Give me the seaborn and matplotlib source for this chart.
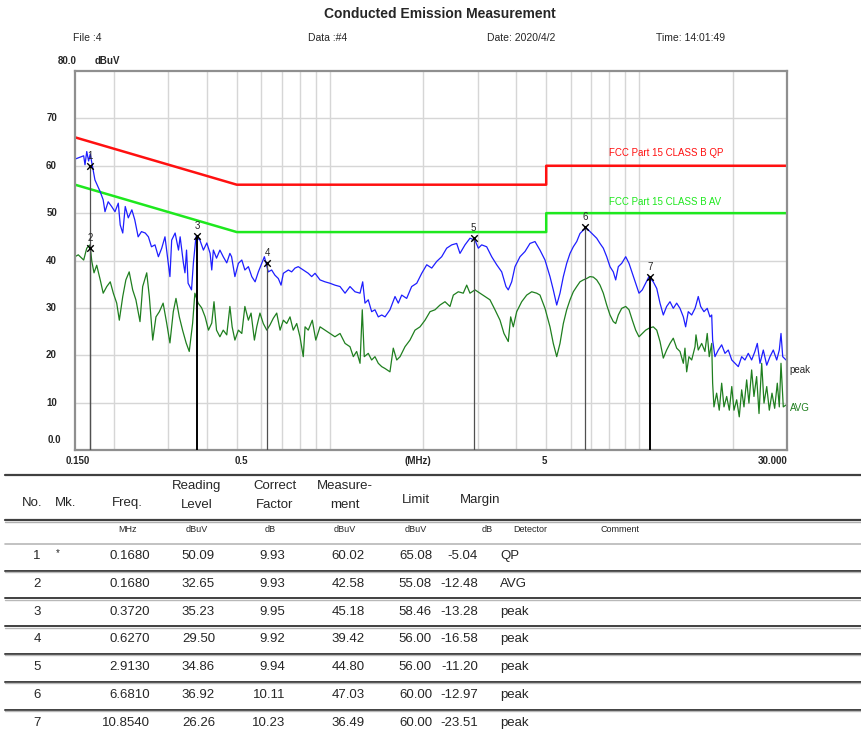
import seaborn as sns
import matplotlib.pyplot as plt
from matplotlib.lines import Line2D
from matplotlib.ticker import NullLocator
from matplotlib.transforms import blended_transform_factory

# Peak detector trace (MHz, dBuV)
peak_freq = [0.150, 0.160, 0.1616, 0.1637, 0.166, 0.168, 0.170, 0.174, 0.181, 0.185,
             0.1875, 0.192, 0.197, 0.202, 0.207, 0.210, 0.214, 0.218, 0.223, 0.229,
             0.234, 0.240, 0.246, 0.253, 0.259, 0.265, 0.272, 0.279, 0.286, 0.293,
             0.300, 0.304, 0.308, 0.316, 0.324, 0.328, 0.336, 0.340, 0.344, 0.348,
             0.357, 0.362, 0.369, 0.380, 0.390, 0.400, 0.410, 0.415, 0.420, 0.430,
             0.441, 0.452, 0.464, 0.475, 0.481, 0.493, 0.506, 0.519, 0.531, 0.545,
             0.559, 0.573, 0.587, 0.602, 0.614, 0.632, 0.648, 0.664, 0.681, 0.695,
             0.707, 0.734, 0.752, 0.771, 0.790, 0.820, 0.851, 0.873, 0.895, 0.929,
             0.964, 1.000, 1.038, 1.078, 1.119, 1.161, 1.205, 1.251, 1.276, 1.298,
             1.330, 1.364, 1.398, 1.433, 1.470, 1.507, 1.563, 1.623, 1.663, 1.706,
             1.770, 1.837, 1.908, 1.980, 2.055, 2.133, 2.213, 2.297, 2.384, 2.475,
             2.568, 2.632, 2.732, 2.835, 2.943, 3.017, 3.093, 3.210, 3.332, 3.459,
             3.590, 3.706, 3.770, 3.867, 3.963, 4.114, 4.270, 4.431, 4.599, 4.773,
             4.955, 5.142, 5.270, 5.406, 5.540, 5.679, 5.823, 5.969, 6.117, 6.274,
             6.428, 6.588, 6.756, 6.924, 7.098, 7.280, 7.461, 7.647, 7.843, 8.037,
             8.236, 8.385, 8.550, 8.769, 9.033, 9.258, 9.489, 9.729, 9.972, 10.22,
             10.48, 10.74, 11.09, 11.38, 11.66, 11.95, 12.25, 12.56, 12.87, 13.20,
             13.53, 13.87, 14.11, 14.39, 14.76, 15.13, 15.24, 15.50, 15.78, 16.17,
             16.57, 16.91, 17.13, 17.25, 17.55, 17.99, 18.45, 18.91, 19.38, 19.89,
             20.37, 20.88, 21.41, 21.94, 22.49, 23.06, 23.63, 24.05, 24.54, 25.15,
             25.80, 26.43, 27.09, 27.79, 28.33, 28.69, 29.06, 29.78]
peak_level = [61.4, 62.1, 60.2, 63.0, 61.0, 62.5, 60.6, 57.0, 54.5, 52.8,
              50.3, 52.4, 51.4, 50.3, 52.1, 47.5, 45.8, 51.4, 49.0, 50.7,
              48.6, 45.0, 46.1, 45.8, 45.0, 42.9, 43.3, 40.8, 42.6, 45.0,
              39.5, 36.6, 44.3, 45.8, 42.2, 45.0, 39.5, 37.4, 42.2, 35.2,
              33.8, 39.5, 45.0, 44.3, 42.2, 43.7, 41.5, 38.0, 42.2, 40.5,
              42.2, 40.8, 39.5, 41.5, 40.8, 36.6, 39.4, 40.1, 38.0, 38.7,
              36.6, 35.5, 37.6, 39.4, 40.8, 37.6, 38.0, 36.9, 36.2, 34.8,
              37.3, 38.0, 37.6, 38.4, 38.7, 38.0, 37.3, 36.6, 37.3, 35.9,
              35.5, 35.2, 34.8, 34.5, 33.1, 34.5, 33.4, 33.1, 35.5, 31.0,
              31.7, 29.2, 29.6, 28.1, 28.5, 28.1, 29.6, 32.4, 31.0, 32.7,
              32.0, 34.5, 35.2, 37.3, 39.1, 38.4, 39.8, 40.8, 42.6, 43.3,
              43.6, 41.5, 43.3, 44.7, 44.3, 42.6, 43.3, 42.9, 40.8, 39.1,
              37.6, 34.5, 33.8, 35.5, 38.7, 40.8, 41.9, 43.6, 44.0, 42.2,
              40.1, 36.6, 33.8, 30.6, 33.1, 36.6, 39.4, 41.5, 42.9, 44.0,
              45.7, 46.4, 46.8, 46.1, 45.4, 44.7, 43.6, 42.6, 40.8, 38.7,
              37.6, 35.9, 38.7, 39.4, 40.8, 39.4, 37.3, 35.2, 33.1, 33.8,
              35.2, 36.6, 35.5, 34.1, 31.0, 28.5, 30.3, 31.3, 29.9, 31.0,
              29.9, 28.1, 26.0, 29.2, 28.5, 29.9, 30.6, 32.4, 30.3, 29.2,
              29.9, 28.1, 28.5, 23.2, 19.7, 21.1, 22.2, 20.4, 21.1, 19.0,
              18.3, 17.6, 19.7, 19.0, 20.4, 19.0, 20.8, 22.5, 18.3, 21.1,
              17.9, 19.7, 21.1, 19.0, 21.1, 24.6, 19.7, 19.0]

# Average detector trace
avg_freq = [0.150, 0.1537, 0.160, 0.1637, 0.1677, 0.170, 0.1728, 0.1763, 0.181, 0.185,
            0.190, 0.195, 0.1995, 0.2046, 0.2086, 0.214, 0.219, 0.2245, 0.2304, 0.236,
            0.2433, 0.2482, 0.2558, 0.2608, 0.2675, 0.274, 0.281, 0.289, 0.2967, 0.304,
            0.3117, 0.318, 0.326, 0.334, 0.343, 0.351, 0.360, 0.366, 0.375, 0.385,
            0.395, 0.405, 0.415, 0.422, 0.430, 0.441, 0.452, 0.464, 0.475, 0.483,
            0.493, 0.506, 0.519, 0.531, 0.545, 0.556, 0.570, 0.580, 0.594, 0.609,
            0.625, 0.640, 0.656, 0.673, 0.690, 0.707, 0.725, 0.743, 0.761, 0.781,
            0.800, 0.820, 0.831, 0.851, 0.877, 0.900, 0.929, 0.964, 1.000, 1.038,
            1.078, 1.119, 1.161, 1.190, 1.220, 1.251, 1.272, 1.291, 1.330, 1.364,
            1.398, 1.433, 1.470, 1.507, 1.563, 1.602, 1.644, 1.685, 1.748, 1.814,
            1.883, 1.955, 2.029, 2.106, 2.186, 2.268, 2.354, 2.443, 2.505, 2.599,
            2.697, 2.767, 2.835, 2.943, 3.054, 3.170, 3.290, 3.415, 3.545, 3.651,
            3.770, 3.838, 3.913, 4.014, 4.166, 4.324, 4.488, 4.658, 4.773, 4.955,
            5.142, 5.270, 5.406, 5.540, 5.679, 5.823, 5.969, 6.117, 6.274, 6.428,
            6.588, 6.756, 6.924, 7.098, 7.280, 7.461, 7.647, 7.843, 8.037, 8.236,
            8.385, 8.550, 8.769, 9.033, 9.258, 9.489, 9.729, 9.972, 10.22, 10.48,
            10.74, 11.09, 11.38, 11.66, 11.95, 12.25, 12.56, 12.87, 13.20, 13.53,
            13.87, 14.04, 14.22, 14.46, 14.76, 15.13, 15.24, 15.50, 15.90, 16.29,
            16.57, 16.82, 17.13, 17.25, 17.42, 17.77, 18.12, 18.45, 18.77, 19.15,
            19.53, 19.89, 20.22, 20.63, 21.03, 21.41, 21.78, 22.22, 22.60, 23.06,
            23.46, 23.93, 24.36, 24.85, 25.28, 25.80, 26.30, 26.83, 27.37, 27.91,
            28.33, 28.69, 29.18, 29.78]
avg_level = [40.8, 41.2, 40.1, 42.6, 43.3, 39.8, 37.4, 39.0, 35.9, 33.1,
             34.5, 35.5, 33.1, 31.0, 27.4, 32.4, 35.9, 37.6, 33.8, 31.7,
             27.1, 34.5, 37.4, 32.4, 23.2, 28.1, 29.2, 31.0, 26.8, 22.6,
             29.2, 32.0, 28.1, 25.3, 22.6, 20.8, 26.8, 33.1, 31.0, 30.0,
             28.1, 25.3, 26.8, 31.3, 25.3, 23.9, 25.3, 24.3, 30.3, 26.0,
             23.2, 25.3, 24.6, 30.3, 27.4, 28.9, 23.2, 26.0, 28.9, 26.7,
             25.3, 26.4, 27.8, 28.9, 25.3, 27.4, 26.7, 28.1, 25.3, 26.7,
             23.9, 19.7, 26.0, 25.3, 27.4, 23.2, 26.0, 25.3, 24.6, 23.9,
             24.6, 22.5, 21.8, 19.7, 20.8, 18.3, 29.6, 19.7, 20.4, 19.0,
             19.7, 18.3, 17.6, 17.2, 16.5, 21.5, 19.0, 19.7, 21.8, 23.2,
             25.3, 26.0, 27.4, 29.2, 29.6, 30.6, 31.3, 30.3, 32.7, 33.4,
             33.1, 34.8, 33.1, 33.8, 33.1, 32.4, 31.7, 29.6, 27.4, 24.6,
             22.9, 28.1, 26.0, 29.2, 31.3, 32.7, 33.4, 33.1, 32.7, 29.9,
             26.0, 22.5, 19.7, 22.5, 26.7, 29.6, 31.7, 33.4, 34.5, 35.5,
             35.9, 36.2, 36.6, 36.5, 35.9, 34.8, 33.1, 30.6, 28.5, 27.1,
             26.7, 28.5, 29.9, 30.3, 29.6, 27.4, 25.3, 23.9, 24.6, 25.3,
             25.7, 26.0, 25.3, 22.9, 19.4, 21.1, 22.5, 23.6, 21.5, 20.8,
             18.3, 21.5, 16.5, 19.7, 19.0, 21.8, 24.3, 21.1, 22.5, 20.8,
             24.6, 19.7, 22.5, 14.1, 9.1, 12.0, 8.4, 14.1, 9.1, 11.3,
             8.4, 13.4, 8.4, 10.6, 7.0, 12.7, 9.1, 14.8, 9.9, 16.9,
             11.3, 15.5, 7.7, 18.3, 9.9, 13.4, 8.4, 12.0, 8.8, 14.1,
             9.1, 18.3, 9.1, 9.5]

# FCC Part 15 class B limits
limit_freq = [0.15, 0.5, 5.0, 5.0, 30.0]
qp_limit = [66, 56, 56, 60, 60]
av_limit = [56, 46, 46, 50, 50]

# Markers / result table
mk_no = [1, 2, 3, 4, 5, 6, 7]
mk_flag = ['*', '', '', '', '', '', '']
mk_freq = [0.1680, 0.1680, 0.3720, 0.6270, 2.9130, 6.6810, 10.8540]
mk_reading = [50.09, 32.65, 35.23, 29.50, 34.86, 36.92, 26.26]
mk_factor = [9.93, 9.93, 9.95, 9.92, 9.94, 10.11, 10.23]
mk_level = [60.02, 42.58, 45.18, 39.42, 44.80, 47.03, 36.49]
mk_limit = [65.08, 55.08, 58.46, 56.00, 56.00, 60.00, 60.00]
mk_margin = [-5.04, -12.48, -13.28, -16.58, -11.20, -12.97, -23.51]
mk_detector = ['QP', 'AVG', 'peak', 'peak', 'peak', 'peak', 'peak']

grid_freq = [0.2, 0.3, 0.4, 0.5, 0.6, 0.7, 0.8, 0.9, 1, 2, 3, 4, 5, 6, 7, 8, 9, 10, 20]

W, H = 861, 737


def fx(x):
    return x / W


def fy(y):
    return 1 - y / H


sns.set_style('white')
plt.rcParams['font.family'] = ['Liberation Sans', 'DejaVu Sans']

fig = plt.figure(figsize=(W / 100, H / 100), dpi=100)
ax = fig.add_axes([fx(75), fy(450), 712 / W, 379 / H])

ax.set_xscale('log')
ax.set_xlim(0.15, 30)
ax.set_ylim(0, 80)
ax.set_xticks(grid_freq)
ax.xaxis.set_minor_locator(NullLocator())
ax.set_yticks(range(10, 80, 10))
ax.tick_params(length=0, labelbottom=False, labelleft=False)
ax.grid(True, color='#d6d6d6', lw=1)
ax.set_axisbelow(True)
for sp in ax.spines.values():
    sp.set_color('#8f8f8f')
    sp.set_linewidth(1.6)

# limit lines
sns.lineplot(x=limit_freq, y=qp_limit, color='#ff1010', lw=1.8,
             estimator=None, sort=False, ax=ax)
sns.lineplot(x=limit_freq, y=av_limit, color='#1ee81e', lw=1.8,
             estimator=None, sort=False, ax=ax)

# traces
sns.lineplot(x=avg_freq, y=avg_level, color='#1f7f1f', lw=0.9,
             estimator=None, sort=False, ax=ax)
sns.lineplot(x=peak_freq, y=peak_level, color='#1e1eff', lw=0.9,
             estimator=None, sort=False, ax=ax)

# marker drop lines, crosses and numbers
for n, f, v in zip(mk_no, mk_freq, mk_level):
    dark = n in (3, 7)
    ax.vlines(f, 0, v, colors='black' if dark else '#505050',
              lw=1.4 if dark else 0.9, zorder=4)
    ax.annotate(str(n), (f, v), xytext=(0, 3.5), textcoords='offset points',
                ha='center', va='bottom', fontsize=7, zorder=6)
sns.scatterplot(x=mk_freq, y=mk_level, marker='x', color='black', s=22,
                linewidth=1.0, ax=ax, zorder=5)

ax.text(8.0, 62.7, 'FCC Part 15 CLASS B QP', color='#ff1010', fontsize=7,
        va='center')
ax.text(8.0, 52.4, 'FCC Part 15 CLASS B AV', color='#1ee81e', fontsize=7,
        va='center')
tr = blended_transform_factory(ax.transAxes, ax.transData)
ax.text(1.004, 16.9, 'peak', transform=tr, fontsize=7, va='center')
ax.text(1.004, 8.9, 'AVG', transform=tr, fontsize=7, va='center',
        color='#1f7f1f')

# axis labels written like the instrument printout
lab = dict(fontsize=7, fontweight='bold')
for v in range(10, 80, 10):
    fig.text(fx(57), fy(450 - v * 379 / 80), str(v), ha='right', va='center', **lab)
fig.text(fx(77), fy(61), '80.0', ha='right', va='center', **lab)
fig.text(fx(95), fy(61), 'dBuV', ha='left', va='center', **lab)
fig.text(fx(61), fy(440), '0.0', ha='right', va='center', **lab)
fig.text(fx(78), fy(461), '0.150', ha='center', va='center', **lab)
fig.text(fx(241), fy(461), '0.5', ha='center', va='center', **lab)
fig.text(fx(418), fy(461), '(MHz)', ha='center', va='center', **lab)
fig.text(fx(544), fy(461), '5', ha='center', va='center', **lab)
fig.text(fx(773), fy(461), '30.000', ha='center', va='center', **lab)

# header
fig.text(fx(440), fy(14), 'Conducted Emission Measurement', ha='center',
         va='center', fontsize=10, fontweight='bold')
fig.text(fx(73), fy(38), 'File :4', va='center', fontsize=7.5)
fig.text(fx(308), fy(38), 'Data :#4', va='center', fontsize=7.5)
fig.text(fx(487), fy(38), 'Date: 2020/4/2', va='center', fontsize=7.5)
fig.text(fx(656), fy(38), 'Time: 14:01:49', va='center', fontsize=7.5)


# result table
def hline(y, color, lw):
    fig.add_artist(Line2D([fx(5), fx(861)], [fy(y), fy(y)], color=color, lw=lw))


hline(475, '#404040', 1.6)
hline(520, '#404040', 1.6)
hline(521.5, '#b0b0b0', 1.0)
hline(544, '#b8b8b8', 1.2)
row_y = [556 + 27.8 * i for i in range(7)]
for y in row_y[:-1]:
    hline(y + 14.5, '#404040', 1.4)
    hline(y + 16, '#b8b8b8', 1.0)

hd = dict(fontsize=9.5, ha='center', va='center')
fig.text(fx(32), fy(503), 'No.', **hd)
fig.text(fx(66), fy(503), 'Mk.', **hd)
fig.text(fx(127), fy(503), 'Freq.', **hd)
fig.text(fx(197), fy(486), 'Reading', **hd)
fig.text(fx(197), fy(505), 'Level', **hd)
fig.text(fx(275), fy(486), 'Correct', **hd)
fig.text(fx(275), fy(505), 'Factor', **hd)
fig.text(fx(345), fy(486), 'Measure-', **hd)
fig.text(fx(345), fy(505), 'ment', **hd)
fig.text(fx(416), fy(500), 'Limit', **hd)
fig.text(fx(480), fy(500), 'Margin', **hd)

un = dict(fontsize=6.5, ha='center', va='center')
for x, t in [(127, 'MHz'), (197, 'dBuV'), (270, 'dB'), (345, 'dBuV'),
             (416, 'dBuV'), (487, 'dB'), (530, 'Detector'), (620, 'Comment')]:
    fig.text(fx(x), fy(530), t, **un)

rw = dict(fontsize=9.5, va='center')
for i, y in enumerate(row_y):
    fig.text(fx(37), fy(y), str(mk_no[i]), ha='center', **rw)
    fig.text(fx(58), fy(y - 3), mk_flag[i], ha='center', fontsize=7, va='center')
    fig.text(fx(150), fy(y), f'{mk_freq[i]:.4f}', ha='right', **rw)
    fig.text(fx(215), fy(y), f'{mk_reading[i]:.2f}', ha='right', **rw)
    fig.text(fx(285), fy(y), f'{mk_factor[i]:.2f}', ha='right', **rw)
    fig.text(fx(365), fy(y), f'{mk_level[i]:.2f}', ha='right', **rw)
    fig.text(fx(432), fy(y), f'{mk_limit[i]:.2f}', ha='right', **rw)
    fig.text(fx(478), fy(y), f'{mk_margin[i]:.2f}', ha='right', **rw)
    fig.text(fx(500), fy(y), mk_detector[i], ha='left', **rw)

fig.savefig('out.png', dpi=100, facecolor='white')
